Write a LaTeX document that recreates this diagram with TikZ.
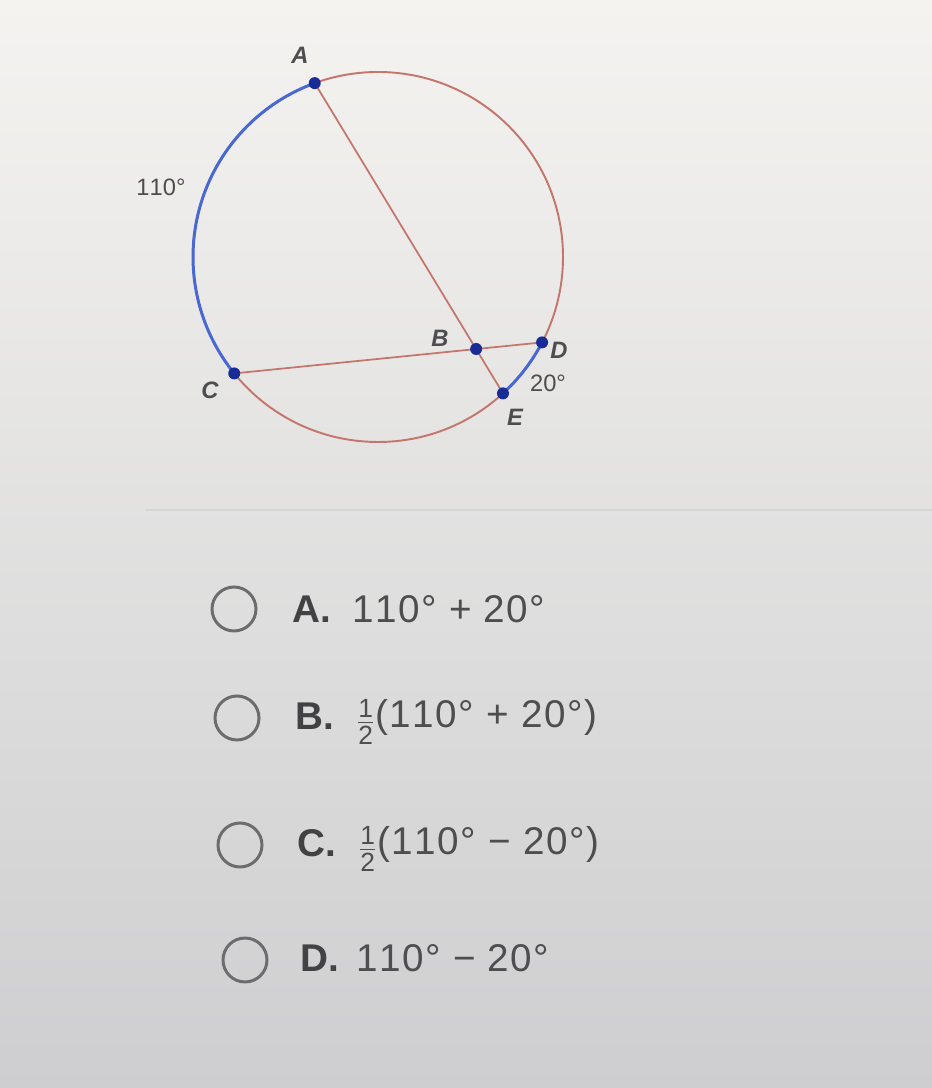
\documentclass[tikz,border=0pt]{standalone}
\usepackage{fontspec}
\setmainfont[Kerning=Off]{Liberation Sans}
\newfontfamily\antwortschrift[Kerning=Off, LetterSpace=4]{Liberation Sans}
\usetikzlibrary{calc,positioning}
\definecolor{kreis}{RGB}{196,118,108}
\definecolor{bogen}{RGB}{74,104,212}
\definecolor{punkt}{RGB}{24,44,150}
\definecolor{schrift}{RGB}{78,78,80}
\definecolor{knopf}{RGB}{108,108,110}
\definecolor{trenner}{RGB}{214,214,214}
\definecolor{hgoben}{RGB}{244,243,240}
\definecolor{hgunten}{RGB}{206,206,208}
\newcommand{\halb}{\raisebox{-0.2ex}{$\frac{\mbox{\fontsize{15}{15}\selectfont 1}}{\mbox{\fontsize{15}{15}\selectfont 2}}$}}

\tikzset{
  pt/.style={circle, fill=punkt, inner sep=0pt, minimum size=0.24cm},
  lbl/.style={font=\fontsize{13.5}{14}\selectfont\bfseries\itshape, text=schrift},
  grad/.style={font=\fontsize{13.5}{14}\selectfont, text=schrift},
  knopfkreis/.style={circle, draw=knopf, line width=1.7pt, minimum size=0.88cm, inner sep=0pt},
  buchst/.style={font=\fontsize{22}{24}\selectfont\bfseries, text=schrift!85!black, anchor=west},
  antwort/.style={font=\antwortschrift\fontsize{22}{24}\selectfont, text=schrift, anchor=west},
}

\begin{document}
\begin{tikzpicture}[x=0.02cm, y=0.02cm]

    \shade[top color=hgoben, bottom color=hgunten] (0,0) rectangle (932,1088);
    \useasboundingbox (0,0) rectangle (932,1088);

    % circle with arcs
    \def\r{185}
    \coordinate (O) at (378,831);
    \coordinate (a) at ($(O)+(110:\r)$);
    \coordinate (c) at ($(O)+(219:\r)$);
    \coordinate (d) at ($(O)+(-27.5:\r)$);
    \coordinate (e) at ($(O)+(-47.5:\r)$);
    \coordinate (b) at (intersection of a--e and c--d);

    \draw[kreis, line width=1.1pt] (O) circle[radius=\r];
    \draw[bogen, line width=1.7pt] (a) arc[start angle=110, end angle=219, radius=\r];
    \draw[bogen, line width=1.7pt] (e) arc[start angle=-47.5, end angle=-27.5, radius=\r];
    \draw[kreis, line width=1pt] (a) -- (e);
    \draw[kreis, line width=1pt] (c) -- (d);

    \node[pt] (A) at (a) {};
    \node[pt] (B) at (b) {};
    \node[pt] (C) at (c) {};
    \node[pt] (D) at (d) {};
    \node[pt] (E) at (e) {};

    \node[lbl] (lA) at (300,1033) {A};
    \node[lbl] (lB) at (440,750) {B};
    \node[lbl] (lC) at (210,698) {C};
    \node[lbl] (lD) at (559,738) {D};
    \node[lbl] (lE) at (515,671) {E};
    \node[grad] (g110) at (161,901) {110°};
    \node[grad] (g20) at (548,705) {20°};

    \draw[trenner, line width=1.2pt] (145,578) -- (932,578);

    % answers
    \node[knopfkreis] (kA) at (234,479) {};
    \node[knopfkreis] (kB) at (237,370) {};
    \node[knopfkreis] (kC) at (240,243) {};
    \node[knopfkreis] (kD) at (245,128) {};

    \node[buchst] (bA) at (286,479) {A.};
    \node[buchst] (bB) at (289,372) {B.};
    \node[buchst] (bC) at (291,245) {C.};
    \node[buchst] (bD) at (294,130) {D.};

    \node[antwort] (aA) at (346,479) {110° + 20°};
    \node[antwort] (aB) at (350,366) {\halb(110° + 20°)};
    \node[antwort] (aC) at (352,239) {\halb(110° − 20°)};
    \node[antwort] (aD) at (350,130) {110° − 20°};

\end{tikzpicture}
\end{document}
